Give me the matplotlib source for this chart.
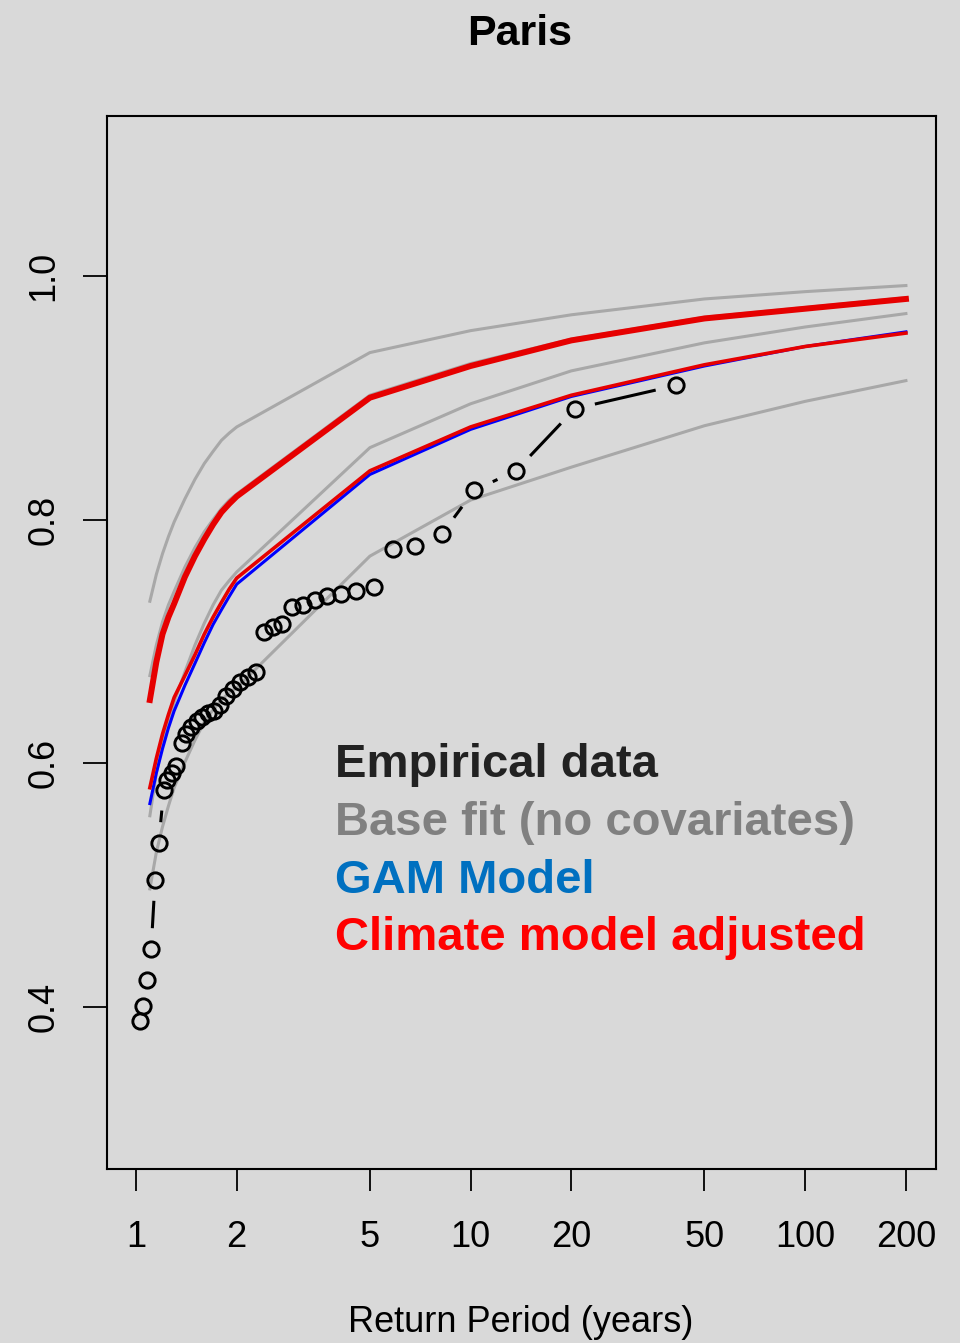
import numpy as np
import matplotlib
matplotlib.use("Agg")
import matplotlib.pyplot as plt

# ---------- DATA ----------
# return periods where the fitted curves were evaluated
curve_T = [1.1, 1.15, 1.2, 1.25, 1.3, 1.4, 1.5, 1.6, 1.7, 1.8, 1.9, 2,
           5, 10, 20, 50, 100, 200]

# base fit (no covariates): four grey lines
base_a = [0.733, 0.755, 0.772, 0.786, 0.798, 0.817, 0.833, 0.846, 0.856, 0.865, 0.871, 0.876,
          0.937, 0.955, 0.968, 0.981, 0.987, 0.992]
base_b = [0.672, 0.697, 0.716, 0.730, 0.741, 0.761, 0.777, 0.790, 0.800, 0.809, 0.816, 0.821,
          0.902, 0.928, 0.948, 0.966, 0.974, 0.982]
base_c = [0.557, 0.592, 0.617, 0.635, 0.650, 0.675, 0.697, 0.715, 0.730, 0.742, 0.750, 0.757,
          0.859, 0.895, 0.922, 0.945, 0.958, 0.969]
base_d = [0.497, 0.527, 0.548, 0.565, 0.580, 0.601, 0.619, 0.634, 0.644, 0.652, 0.658, 0.662,
          0.770, 0.816, 0.843, 0.877, 0.897, 0.914]

# climate model adjusted (two red curves)
clim_hi = [0.652, 0.683, 0.706, 0.720, 0.731, 0.753, 0.770, 0.784, 0.796, 0.806, 0.813, 0.819,
           0.900, 0.926, 0.947, 0.965, 0.973, 0.981]
clim_lo = [0.580, 0.604, 0.624, 0.640, 0.654, 0.672, 0.689, 0.706, 0.720, 0.732, 0.743, 0.752,
           0.840, 0.876, 0.902, 0.927, 0.942, 0.953]

# GAM model
gam = [0.567, 0.592, 0.612, 0.629, 0.643, 0.664, 0.682, 0.699, 0.714, 0.726, 0.737, 0.747,
       0.837, 0.874, 0.901, 0.926, 0.942, 0.954]

# empirical data (sorted, largest first)
emp_T = [41.0, 20.5, 13.67, 10.25, 8.2, 6.83, 5.86, 5.13, 4.56, 4.1,
         3.73, 3.42, 3.15, 2.93, 2.73, 2.56, 2.41, 2.28, 2.16, 2.05,
         1.95, 1.86, 1.78, 1.71, 1.64, 1.58, 1.52, 1.46, 1.41, 1.37,
         1.32, 1.28, 1.24, 1.21, 1.17, 1.14, 1.11, 1.08, 1.05, 1.03]
emp_v = [0.910, 0.891, 0.840, 0.824, 0.788, 0.778, 0.776, 0.745, 0.741, 0.739,
         0.737, 0.734, 0.730, 0.728, 0.714, 0.712, 0.708, 0.675, 0.671, 0.667,
         0.661, 0.655, 0.648, 0.643, 0.641, 0.638, 0.635, 0.630, 0.624, 0.617,
         0.598, 0.592, 0.586, 0.578, 0.535, 0.504, 0.448, 0.422, 0.401, 0.389]

x_ticks = [1, 2, 5, 10, 20, 50, 100, 200]
y_ticks = [0.4, 0.6, 0.8, 1.0]
legend_items = [("Empirical data", "#222222"),
                ("Base fit (no covariates)", "#808080"),
                ("GAM Model", "#0070c0"),
                ("Climate model adjusted", "#ff0000")]
# ---------------------------

BG = "#d9d9d9"
GREY = "#a8a8a8"
W, H = 960, 1343
GAP = 22  # px gap around points, like R type="b"

plt.rcParams["font.family"] = ["Liberation Sans", "DejaVu Sans"]

fig = plt.figure(figsize=(W / 100, H / 100), dpi=100, facecolor=BG)
ax = fig.add_axes([107 / W, (H - 1169) / H, (936 - 107) / W, (1169 - 116) / H])
ax.set_facecolor(BG)
ax.set_xscale("log")
ax.set_xlim(0.819, 246.0)
ax.set_ylim(0.2672, 1.1311)

for s in ax.spines.values():
    s.set_linewidth(1.5)
    s.set_color("black")

ax.set_xticks(x_ticks)
ax.set_xticklabels([str(t) for t in x_ticks])
ax.xaxis.set_minor_locator(matplotlib.ticker.NullLocator())
ax.set_yticks(y_ticks)
ax.set_yticklabels([f"{t:.1f}" for t in y_ticks], rotation=90, va="center")
ax.tick_params(axis="x", length=16, width=1.3, pad=21, labelsize=26)
ax.tick_params(axis="y", length=17, width=1.3, pad=16, labelsize=26)

# grey base fit curves
for ys in (base_a, base_b, base_c, base_d):
    ax.plot(curve_T, ys, color=GREY, lw=2.2, zorder=2)

# GAM and climate model curves
ax.plot(curve_T, gam, color="#0000ff", lw=2.2, zorder=3)
ax.plot(curve_T, clim_lo, color="#e60000", lw=2.6, zorder=4)
ax.plot(curve_T, clim_hi, color="#e60000", lw=4.3, zorder=4)

# empirical points, joined like R type="b" (segments stop short of points)
pts = ax.transData.transform(np.column_stack([emp_T, emp_v]))
inv = ax.transData.inverted()
for p, q in zip(pts[:-1], pts[1:]):
    d = q - p
    L = np.hypot(d[0], d[1])
    if L > 2 * GAP:
        u = d / L
        a = inv.transform(p + u * GAP)
        b = inv.transform(q - u * GAP)
        ax.plot([a[0], b[0]], [a[1], b[1]], color="black", lw=2.2, zorder=5)
ax.plot(emp_T, emp_v, ls="none", marker="o", ms=11, mfc="none",
        mec="black", mew=2.1, zorder=6)

# title and axis label
fig.text(520 / W, 1 - 45 / H, "Paris", ha="center", va="baseline",
         fontsize=31, fontweight="bold")
fig.text(521 / W, 1 - 1332 / H, "Return Period (years)", ha="center",
         va="baseline", fontsize=26)

# coloured legend text
baselines = [777, 835, 893, 950]
for (label, col), yb in zip(legend_items, baselines):
    fig.text(335 / W, 1 - yb / H, label, color=col, ha="left", va="baseline",
             fontsize=34, fontweight="bold")

fig.savefig("out.png", dpi=100, facecolor=BG)
